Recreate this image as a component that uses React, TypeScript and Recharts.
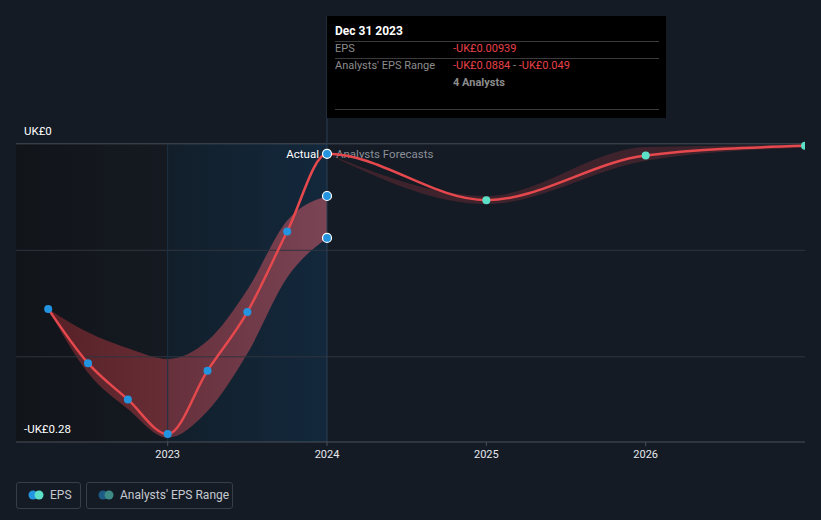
import React from 'react';
import {
  ComposedChart,
  Line,
  Area,
  XAxis,
  YAxis,
  ReferenceLine,
  ReferenceArea,
  ReferenceDot,
} from 'recharts';

// ---- data ----
const histX = [2022.25, 2022.5, 2022.75, 2023, 2023.25, 2023.5, 2023.75, 2024];
const histEps = [-0.155, -0.206, -0.24, -0.2726, -0.213, -0.158, -0.0823, -0.00939];
const histLow = [-0.155, -0.215, -0.249, -0.276, -0.251, -0.197, -0.1255, -0.0884];
const histHigh = [-0.155, -0.177, -0.192, -0.202, -0.185, -0.137, -0.072, -0.049];

const fcX = [2024, 2025, 2026, 2027];
const fcEps = [-0.00939, -0.0529, -0.011, -0.0019];
const fcLow = [-0.00939, -0.0566, -0.016, -0.0035];
const fcHigh = [-0.00939, -0.049, -0.003, -0.001];

const xTicks = [2023, 2024, 2025, 2026];
const gridValues = [0, -0.1, -0.2];
const yMin = -0.28;
const xStart = 2022.048;
const xEnd = 2027;
const pastStart = 2023;
const nowX = 2024;

const tooltipDate = 'Dec 31 2023';
const tooltipEps = '-UK£0.00939';
const tooltipLow = '-UK£0.0884';
const tooltipHigh = '-UK£0.049';
const tooltipAnalysts = '4 Analysts';

// ---- derived tables ----
const epsData = [
  ...histX.map((x, i) => ({ x, eps: histEps[i] })),
  ...fcX.slice(1).map((x, i) => ({ x, eps: fcEps[i + 1] })),
];
const histBand = histX.map((x, i) => ({ x, range: [histLow[i], histHigh[i]] }));
const fcBand = fcX.map((x, i) => ({ x, range: [fcLow[i], fcHigh[i]] }));

const BLUE = '#2394df';
const TEAL = '#5ce0c8';
const RED = '#e5484d';
const FONT = 'Roboto, "Noto Sans", sans-serif';

const renderDot = (p: any) => {
  const x = p.payload.x;
  const isF = x > nowX;
  const isNow = x === nowX;
  return (
    <circle
      key={'d' + p.index}
      cx={p.cx}
      cy={p.cy}
      r={isNow ? 4.5 : 4}
      fill={isF ? TEAL : BLUE}
      stroke={isNow ? '#ffffff' : 'none'}
      strokeWidth={1.2}
    />
  );
};

const YLabel = (props: any) => {
  const vb = props.viewBox || {};
  return (
    <text
      x={vb.x + 8}
      y={vb.y - 9}
      fill="#ffffff"
      fontSize={11.5}
      fontFamily={FONT}
    >
      {props.text}
    </text>
  );
};

const NowLabel = (props: any) => {
  const vb = props.viewBox || {};
  const y = vb.y + vb.height - 284;
  return (
    <g fontFamily={FONT} fontSize={11.5}>
      <text x={vb.x - 8} y={y} textAnchor="end" fill="#ffffff">
        Actual
      </text>
      <text x={vb.x + 9} y={y} textAnchor="start" fill="#8a8f98">
        Analysts Forecasts
      </text>
    </g>
  );
};

export default function App() {
  return (
    <div
      style={{
        position: 'absolute',
        left: 0,
        top: 0,
        width: 821,
        height: 520,
        background: '#151b25',
        fontFamily: FONT,
        overflow: 'hidden',
      }}
    >
      <ComposedChart
        width={821}
        height={520}
        margin={{ top: 16, right: 16, bottom: 48, left: 16 }}
      >
        <defs>
          <linearGradient id="leftBg" x1="0" y1="0" x2="1" y2="0">
            <stop offset="0%" stopColor="#111419" />
            <stop offset="100%" stopColor="#151a22" />
          </linearGradient>
          <linearGradient id="pastBg" x1="0" y1="0" x2="1" y2="0">
            <stop offset="0%" stopColor="#121f2b" />
            <stop offset="100%" stopColor="#13283c" />
          </linearGradient>
          <linearGradient id="histBandFill" x1="0" y1="0" x2="1" y2="0">
            <stop offset="0%" stopColor="#c8333a" stopOpacity={0.38} />
            <stop offset="100%" stopColor="#e3616f" stopOpacity={0.5} />
          </linearGradient>
        </defs>
        <XAxis
          dataKey="x"
          type="number"
          domain={[xStart, xEnd]}
          ticks={xTicks}
          allowDataOverflow
          height={30}
          tickSize={4}
          tickMargin={4}
          axisLine={{ stroke: '#4a5059' }}
          tickLine={{ stroke: '#4a5059' }}
          tick={{ fill: '#e6e8ec', fontSize: 11, fontFamily: FONT }}
        />
        <YAxis type="number" domain={[yMin, 0.12]} allowDataOverflow hide />

        <ReferenceArea
          x1={xStart}
          x2={pastStart}
          y1={yMin}
          y2={0}
          fill="url(#leftBg)"
          fillOpacity={1}
          stroke="none"
        />
        <ReferenceArea
          x1={pastStart}
          x2={nowX}
          y1={yMin}
          y2={0}
          fill="url(#pastBg)"
          fillOpacity={1}
          stroke="none"
        />

        {gridValues.map((v) => (
          <ReferenceLine
            key={v}
            y={v}
            stroke={v === 0 ? '#474d56' : '#2f353f'}
            strokeWidth={1}
            label={v === 0 ? <YLabel text="UK£0" /> : undefined}
          />
        ))}
        <ReferenceLine
          y={yMin}
          stroke="none"
          label={<YLabel text="-UK£0.28" />}
        />
        <ReferenceLine
          segment={[
            { x: pastStart, y: yMin },
            { x: pastStart, y: 0 },
          ]}
          stroke="#1d3247"
          strokeWidth={1}
        />
        <ReferenceLine
          x={nowX}
          stroke="#2a3e52"
          strokeWidth={1}
          label={<NowLabel />}
        />

        <Area
          data={histBand}
          dataKey="range"
          type="monotone"
          fill="url(#histBandFill)"
          fillOpacity={1}
          stroke="none"
          isAnimationActive={false}
          activeDot={false}
          dot={false}
        />
        <Area
          data={fcBand}
          dataKey="range"
          type="monotone"
          fill="#d8404a"
          fillOpacity={0.22}
          stroke="none"
          isAnimationActive={false}
          activeDot={false}
          dot={false}
        />
        <Line
          data={epsData}
          dataKey="eps"
          type="monotone"
          stroke={RED}
          strokeWidth={2.5}
          dot={renderDot}
          activeDot={false}
          isAnimationActive={false}
        />
        <ReferenceDot
          x={nowX}
          y={histHigh[histHigh.length - 1]}
          r={4.5}
          fill={BLUE}
          stroke="#ffffff"
          strokeWidth={1.2}
        />
        <ReferenceDot
          x={nowX}
          y={histLow[histLow.length - 1]}
          r={4.5}
          fill={BLUE}
          stroke="#ffffff"
          strokeWidth={1.2}
        />
      </ComposedChart>

      {/* tooltip */}
      <div
        style={{
          position: 'absolute',
          left: 327,
          top: 16,
          width: 339,
          height: 102,
          background: '#000000',
          fontSize: 11,
        }}
      >
        <div
          style={{
            position: 'absolute',
            left: 8,
            top: 8,
            lineHeight: '14px',
            fontSize: 12,
            fontWeight: 700,
            color: '#ffffff',
          }}
        >
          {tooltipDate}
        </div>
        <div style={{ position: 'absolute', left: 8, top: 25, width: 324, height: 1, background: '#3b3b3b' }} />
        <div style={{ position: 'absolute', left: 8, top: 26, lineHeight: '14px', color: '#8c8c8c' }}>EPS</div>
        <div style={{ position: 'absolute', left: 126, top: 26, lineHeight: '14px', color: '#e8404a' }}>{tooltipEps}</div>
        <div style={{ position: 'absolute', left: 8, top: 42, width: 324, height: 1, background: '#3b3b3b' }} />
        <div style={{ position: 'absolute', left: 8, top: 43, lineHeight: '14px', color: '#8c8c8c' }}>
          Analysts' EPS Range
        </div>
        <div style={{ position: 'absolute', left: 126, top: 43, lineHeight: '14px', color: '#8c8c8c', whiteSpace: 'nowrap' }}>
          <span style={{ color: '#e8404a' }}>{tooltipLow}</span> - <span style={{ color: '#e8404a' }}>{tooltipHigh}</span>
        </div>
        <div style={{ position: 'absolute', left: 126, top: 60, lineHeight: '14px', color: '#8c8c8c', fontWeight: 700 }}>
          {tooltipAnalysts}
        </div>
        <div style={{ position: 'absolute', left: 8, top: 93, width: 324, height: 1, background: '#3b3b3b' }} />
      </div>

      {/* legend */}
      <div
        style={{
          position: 'absolute',
          left: 16,
          top: 482,
          width: 63,
          height: 25,
          border: '1px solid #383d46',
          borderRadius: 3,
        }}
      >
        <svg width={20} height={12} style={{ position: 'absolute', left: 10, top: 6 }}>
          <circle cx={6} cy={6} r={4.5} fill={BLUE} />
          <circle cx={12} cy={6} r={4.5} fill={TEAL} />
        </svg>
        <div style={{ position: 'absolute', left: 33, top: 5, lineHeight: '14px', fontSize: 12, color: '#c5c9cf' }}>EPS</div>
      </div>
      <div
        style={{
          position: 'absolute',
          left: 86,
          top: 482,
          width: 145,
          height: 25,
          border: '1px solid #383d46',
          borderRadius: 3,
        }}
      >
        <svg width={20} height={12} style={{ position: 'absolute', left: 10, top: 6 }}>
          <circle cx={6} cy={6} r={4.5} fill="#1d5a86" />
          <circle cx={12} cy={6} r={4.5} fill="#3d8a86" />
        </svg>
        <div style={{ position: 'absolute', left: 33, top: 5, lineHeight: '14px', fontSize: 12, color: '#c5c9cf', whiteSpace: 'nowrap' }}>
          Analysts' EPS Range
        </div>
      </div>
    </div>
  );
}
